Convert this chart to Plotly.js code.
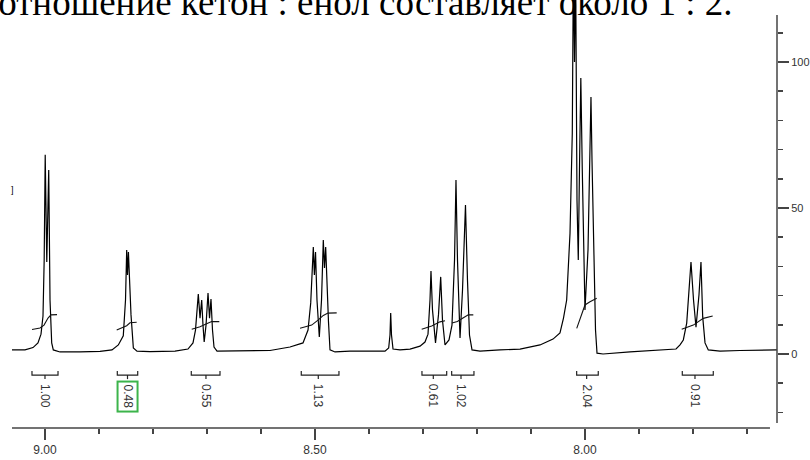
<!DOCTYPE html>
<html>
<head>
<meta charset="utf-8">
<script src="https://cdn.plot.ly/plotly-3.0.1.min.js"></script>
<style>html,body{margin:0;padding:0;background:#fff;overflow:hidden}#chart{width:810px;height:460px}</style>
</head>
<body>
<div id="chart"></div>
<script>
// ---- data ----
const spectrumPpm = [
9.0611,9.0370,9.0222,9.0130,9.0074,9.0037,9.0015,8.9996,8.9967,8.9931,8.9907,8.9876,8.9846,8.9722,8.9352,8.8981,
8.8759,8.8642,8.8550,8.8509,8.8487,8.8472,8.8455,8.8407,8.8364,8.8296,8.8055,8.7592,
8.7352,8.7259,8.7213,8.7185,8.7161,8.7129,8.7098,8.7074,8.7052,8.7018,8.6981,8.6953,8.6926,8.6898,8.6870,8.6814,8.6389,8.5833,
8.5463,8.5222,8.5129,8.5079,8.5031,8.5011,8.4990,8.4963,8.4920,8.4879,8.4846,8.4824,8.4802,8.4777,8.4750,8.4722,8.4629,8.4352,
8.3703,8.3635,8.3611,8.3598,8.3583,8.3555,8.3426,8.3240,
8.3055,8.2963,8.2907,8.2870,8.2852,8.2824,8.2768,8.2713,8.2672,8.2639,8.2592,8.2518,8.2463,8.2416,8.2389,8.2361,8.2314,8.2268,8.2213,8.2176,8.2139,8.2092,
8.1944,8.1574,8.1203,8.0833,8.0592,8.0463,8.0398,8.0339,8.0277,8.0235,8.0214,8.0194,8.0174,8.0148,8.0124,8.0102,8.0077,8.0050,8.0000,7.9944,7.9903,7.9889,7.9870,7.9833,7.9805,7.9777,7.9666,7.9166,
7.8426,7.8314,7.8240,7.8179,7.8116,7.8068,7.8037,7.7990,7.7944,7.7889,7.7852,7.7820,7.7777,7.7716,7.7500,7.7129,7.6759,7.6444
];
const spectrumIntensity = [
1.4,1.4,2.2,3.8,6.8,13.0,32.2,68.2,31.5,63.0,18.5,3.8,1.4,0.7,0.7,0.9,
1.4,3.1,6.2,18.5,35.6,27.1,34.9,13.4,2.1,1.0,0.8,1.0,
1.7,3.8,8.2,15.1,20.5,12.3,18.5,9.9,4.1,9.9,20.9,12.3,18.8,8.2,2.4,1.0,1.0,1.2,
2.4,3.8,8.2,17.5,36.6,27.1,34.9,18.5,5.8,18.5,39.0,29.5,36.6,21.9,11.0,1.4,0.7,1.0,
1.0,2.1,6.5,14.0,6.5,1.7,1.4,1.7,
2.7,4.1,6.8,18.5,28.4,15.1,3.8,13.4,26.4,11.6,3.1,4.8,9.9,32.2,59.6,32.2,5.5,21.9,51.0,25.3,6.5,1.4,
1.0,1.4,1.7,3.1,5.1,7.2,12.3,18.5,41.4,75.7,135,100,135,52.7,32.2,63.0,94.5,63.0,15.1,35.6,73.3,88.0,66.4,28.8,8.2,0.3,0.0,0.7,
1.4,1.7,3.1,4.8,10.6,21.9,31.5,18.5,9.2,20.2,31.5,12.7,3.8,1.4,1.0,1.2,1.4,1.4
];
// integral curves (null separates groups)
const integralCurvePpm = [
9.0240,9.0092,9.0018,8.9944,8.9889,8.9777,null,
8.8672,8.8574,8.8487,8.8426,8.8302,null,
8.7283,8.7129,8.7018,8.6913,8.6772,null,
8.5277,8.5061,8.4944,8.4846,8.4759,8.4598,null,
8.3024,8.2839,8.2685,8.2592,null,
8.2463,8.2364,8.2259,8.2161,8.2068,null,
8.0153,8.0061,8.0000,7.9907,7.9783,null,
7.8209,7.7994,7.7809,7.7635
];
const integralCurveValue = [
8.4,8.9,9.9,12.3,13.4,13.5,null,
8.2,9.1,9.7,10.7,10.9,null,
8.5,9.3,10.3,11.1,11.1,null,
8.8,9.9,11.6,13.2,14.0,14.1,null,
8.5,9.6,11.0,11.4,null,
10.6,11.1,12.3,13.4,13.4,null,
8.8,13.9,16.8,17.9,19.1,null,
8.5,9.9,12.2,13.0
];
const integralStart  = [9.0241,8.8661,8.7291,8.5254,8.3019,8.2469,8.0154,7.8198];
const integralEnd    = [8.9759,8.8283,8.6759,8.4556,8.2561,8.2056,7.9754,7.7624];
const integralCenter = [9.0000,8.8472,8.7019,8.4939,8.2809,8.2296,7.9969,7.7963];
const integralLabels = ['1.00','0.48','0.55','1.13','0.61','1.02','2.04','0.91'];
const highlightedLabel = '0.48';

const xTickVals = [9.0, 8.5, 8.0];
const xTickText = ['9.00', '8.50', '8.00'];
const xMinorVals = [8.9, 8.8, 8.7, 8.6, 8.4, 8.3, 8.2, 8.1, 7.9, 7.8, 7.7];
const yTickVals = [0, 50, 100];
const yTickText = ['0', '50', '100'];
const yMinorVals = [-20, -10, 10, 20, 30, 40, 60, 70, 80, 90, 110];

const titleText = 'Соотношение кетон : енол составляет около 1 : 2.';
const xAxisLabel = 'ppm (t1)';

// ---- build bracket traces ----
const bTop = -5.8, bMid = -7.2, bLow = -8.6, labelY = -14.4;
const bx = [], by = [];
for (let i = 0; i < integralStart.length; i++) {
  bx.push(integralStart[i], integralStart[i], integralEnd[i], integralEnd[i], null,
          integralCenter[i], integralCenter[i], null);
  by.push(bTop, bMid, bMid, bTop, null, bMid, bLow, null);
}

const traces = [
  {x: spectrumPpm, y: spectrumIntensity, type: 'scatter', mode: 'lines',
   line: {color: '#000', width: 1.2}, hoverinfo: 'skip'},
  {x: integralCurvePpm, y: integralCurveValue, type: 'scatter', mode: 'lines',
   line: {color: '#111', width: 1.1}, connectgaps: false, hoverinfo: 'skip'},
  {x: bx, y: by, type: 'scatter', mode: 'lines', cliponaxis: false,
   line: {color: '#222', width: 1.2}, connectgaps: false, hoverinfo: 'skip'}
];

const annotations = integralLabels.map((t, i) => ({
  x: integralCenter[i], y: labelY, xref: 'x', yref: 'y', text: t, showarrow: false,
  textangle: 90, font: {family: 'Liberation Sans, Arial', size: 12, color: '#333'},
  xanchor: 'center', yanchor: 'middle',
  bordercolor: t === highlightedLabel ? '#3cb44b' : 'rgba(0,0,0,0)',
  borderwidth: t === highlightedLabel ? 2 : 0, borderpad: 2
}));
annotations.push({
  xref: 'paper', yref: 'paper', x: -0.0768, y: 0.941, xanchor: 'left', yanchor: 'bottom',
  text: titleText, showarrow: false,
  font: {family: 'Liberation Serif, Times New Roman', size: 37, color: '#000'}
});
annotations.push({
  xref: 'paper', yref: 'paper', x: 0.0327, y: -0.0654, xanchor: 'center', yanchor: 'top',
  text: xAxisLabel, showarrow: false,
  font: {family: 'Liberation Sans, Arial', size: 11, color: '#333'}
});
annotations.push({
  xref: 'paper', yref: 'paper', x: 0.0, y: 0.556, xanchor: 'center', yanchor: 'middle',
  text: ']', showarrow: false, font: {family: 'Liberation Sans, Arial', size: 9, color: '#000'}
});

const layout = {
  width: 810, height: 460,
  margin: {l: 12, r: 33, t: 0, b: 32},
  paper_bgcolor: '#fff', plot_bgcolor: '#fff',
  showlegend: false,
  xaxis: {
    range: [9.0611, 7.6444], showgrid: false, zeroline: false, showline: false,
    tickmode: 'array', tickvals: xTickVals, ticktext: xTickText,
    ticks: 'outside', ticklen: 11, tickwidth: 1.5, tickcolor: '#444',
    tickfont: {family: 'Liberation Sans, Arial', size: 12, color: '#333'},
    minor: {tickmode: 'array', tickvals: xMinorVals, ticks: 'outside', ticklen: 5, tickwidth: 1.5, tickcolor: '#444', showgrid: false}
  },
  yaxis: {
    range: [-25.34, 121.23], side: 'right', showgrid: false, zeroline: false, showline: false,
    tickmode: 'array', tickvals: yTickVals, ticktext: yTickText,
    ticks: 'outside', ticklen: 11, tickwidth: 1.5, tickcolor: '#444',
    tickfont: {family: 'Liberation Sans, Arial', size: 11, color: '#333'},
    minor: {tickmode: 'array', tickvals: yMinorVals, ticks: 'outside', ticklen: 5, tickwidth: 1.5, tickcolor: '#444', showgrid: false}
  },
  shapes: [
    {type: 'line', xref: 'paper', yref: 'paper', x0: 0, x1: 0.9908, y0: 0, y1: 0, line: {color: '#444', width: 1.5}},
    {type: 'line', xref: 'paper', yref: 'paper', x0: 1, x1: 1, y0: 0.0117, y1: 0.965, line: {color: '#444', width: 1.5}}
  ],
  annotations: annotations
};

Plotly.newPlot('chart', traces, layout, {displayModeBar: false, staticPlot: true});
</script>
</body>
</html>
